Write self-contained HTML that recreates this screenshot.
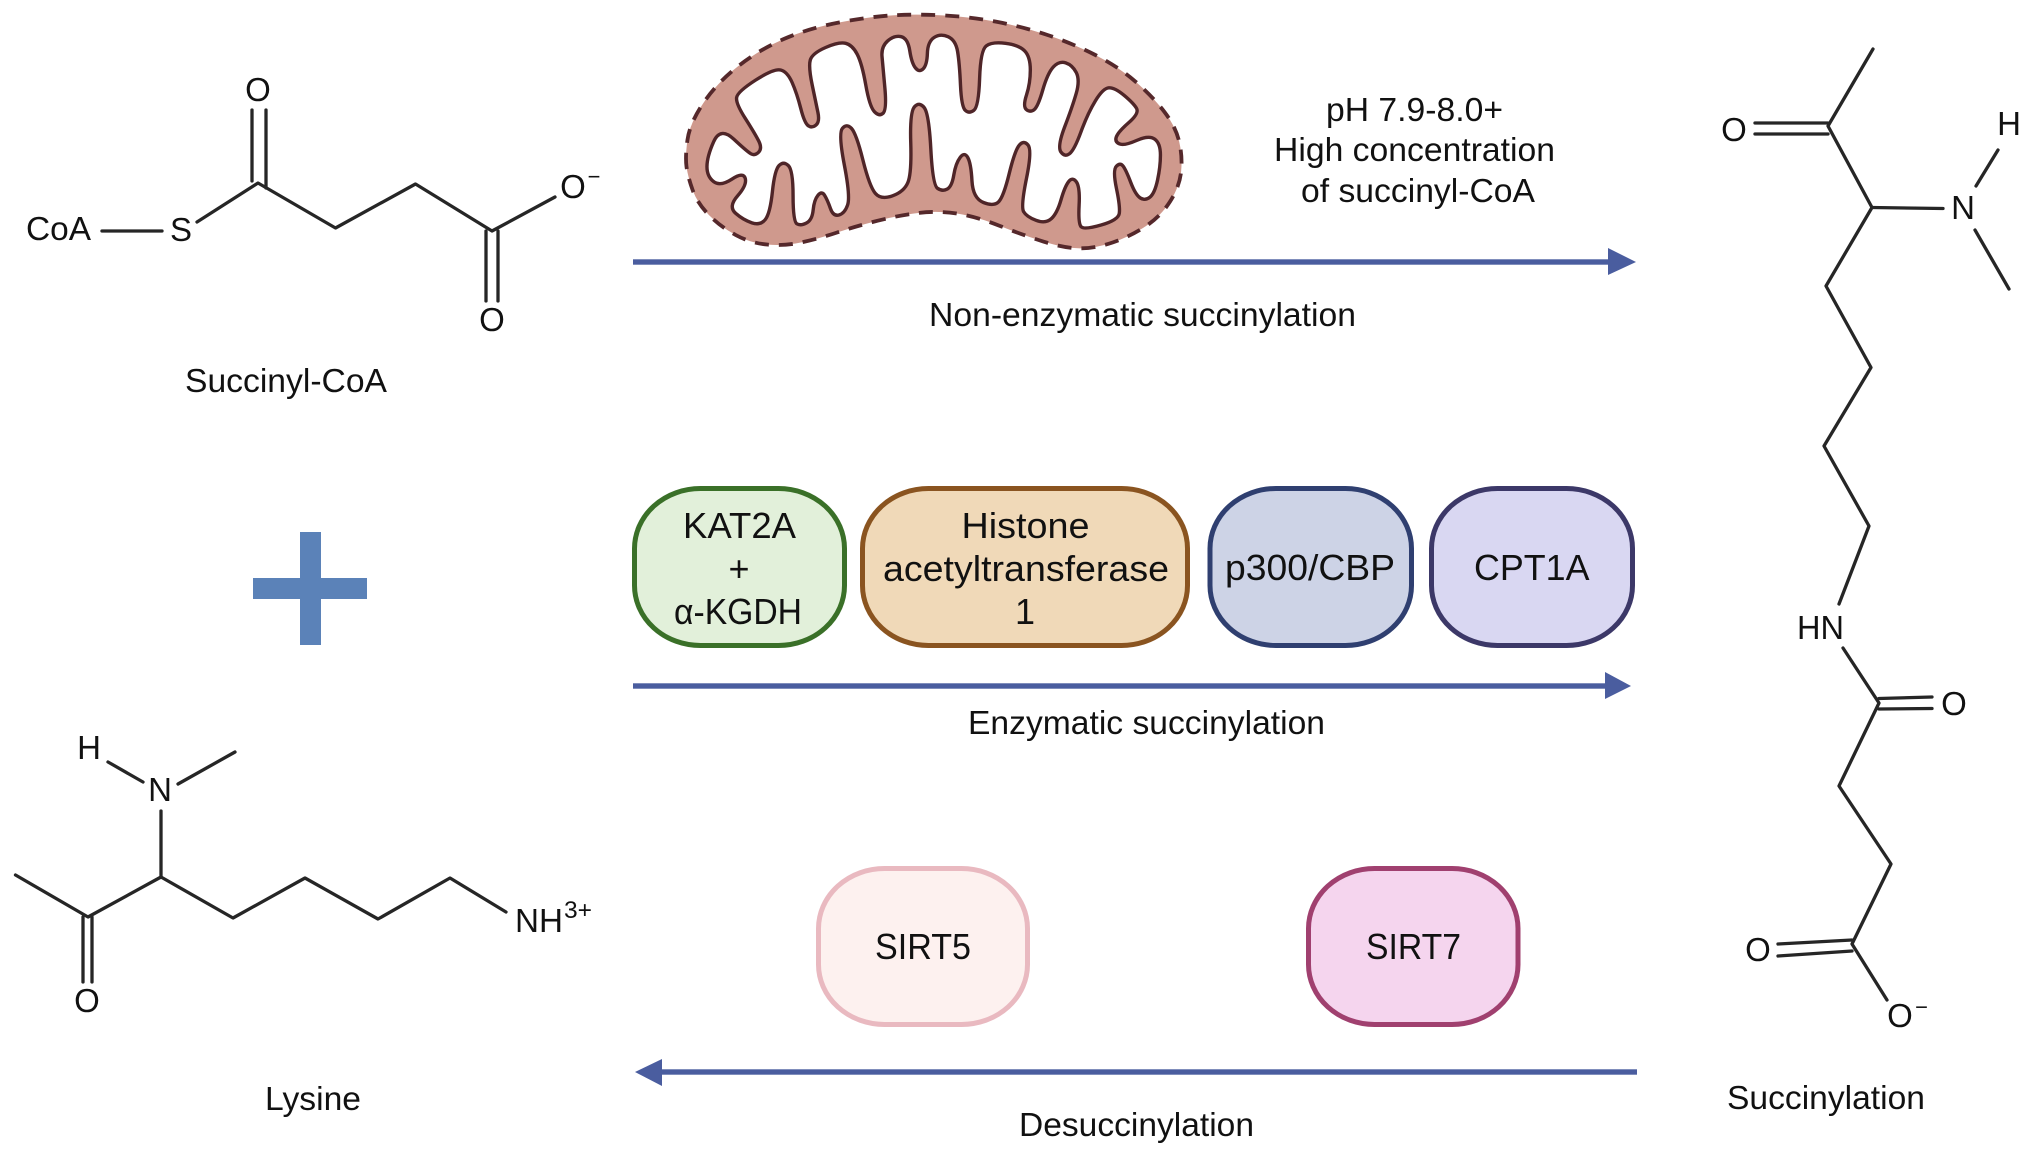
<!DOCTYPE html>
<html lang="en">
<head>
<meta charset="utf-8">
<title>Succinylation diagram</title>
<style>
html,body{margin:0;padding:0;background:#fff}
svg{display:block}
text{font-family:"Liberation Sans",Arial,sans-serif;fill:#111}
.a{font-size:33px}
.l{font-size:33px}
.p{font-size:36px}
.b{stroke:#262626;stroke-width:3.3;fill:none;stroke-linecap:round;stroke-linejoin:round}
</style>
</head>
<body>
<svg xmlns="http://www.w3.org/2000/svg" width="2032" height="1156" viewBox="0 0 2032 1156">
<rect width="2032" height="1156" fill="#fff"/>

<!-- Mitochondrion -->
<g transform="translate(640,0) scale(.38267,.33333)">
<path fill="#cf998d" stroke="#55282b" stroke-width="3.8" stroke-dasharray="14 10" vector-effect="non-scaling-stroke" d="M121.5,500 Q118,470 124,420 Q130,370 165,310 Q200,250 255,200 Q310,150 375,117.5 Q440,85 520,67.5 Q600,50 660,46 Q720,42 790,46 Q860,50 930,65 Q1000,80 1065,105 Q1130,130 1190,165 Q1250,200 1295,245 Q1340,290 1370,335 Q1400,380 1409,425 Q1418,470 1414,515 Q1410,560 1385,605 Q1360,650 1320,680 Q1280,710 1235,727.5 Q1190,745 1150,745 Q1110,745 1055,725 Q1000,705 940,677.5 Q880,650 830,641 Q780,632 730,638.5 Q680,645 620,662.5 Q560,680 515,697.5 Q470,715 425,726.5 Q380,738 335,734 Q290,730 250,705 Q210,680 180,645 Q150,610 137.5,570 Q125,530 121.5,500Z"/>
<path fill="#fff" stroke="#4f2528" stroke-width="3.4" stroke-linejoin="round" vector-effect="non-scaling-stroke" d="M175,500 Q175,470 192.5,425 Q210,380 245,417.5 Q280,455 290,461.5 Q300,468 310,456.5 Q320,445 310,422.5 Q300,400 275,355 Q250,310 252.5,292.5 Q255,275 302.5,240 Q350,205 367.5,210 Q385,215 397.5,247.5 Q410,280 420,325 Q430,370 440,377.5 Q450,385 460,375 Q470,365 465,337.5 Q460,310 450,255 Q440,200 445,180 Q450,160 485,142.5 Q520,125 537.5,130 Q555,135 567.5,162.5 Q580,190 590,255 Q600,320 612.5,335 Q625,350 635,340 Q645,330 640,265 Q635,200 632.5,170 Q630,140 647.5,122.5 Q665,105 682.5,110 Q700,115 705,152.5 Q710,190 720,204 Q730,218 740,206.5 Q750,195 751,160 Q752,125 768.5,112.5 Q785,100 805,110 Q825,120 830,155 Q835,190 837.5,255 Q840,320 850,331 Q860,342 872.5,331 Q885,320 887.5,235 Q890,150 905,137.5 Q920,125 955,130 Q990,135 1005,152.5 Q1020,170 1020,210 Q1020,250 1010,285 Q1000,320 1010,329 Q1020,338 1030,329 Q1040,320 1052.5,270 Q1065,220 1080,201 Q1095,182 1112.5,188.5 Q1130,195 1140,217.5 Q1150,240 1140,280 Q1130,320 1110,380 Q1090,440 1100,456 Q1110,472 1122.5,461 Q1135,450 1152.5,395 Q1170,340 1190,302.5 Q1210,265 1225,263.5 Q1240,262 1265,286 Q1290,310 1297.5,325 Q1305,340 1277.5,367.5 Q1250,395 1245,410 Q1240,425 1252.5,431.5 Q1265,438 1297.5,421.5 Q1330,405 1345,417.5 Q1360,430 1360,465 Q1360,500 1352.5,540 Q1345,580 1332.5,591.5 Q1320,603 1307.5,594 Q1295,585 1282.5,547.5 Q1270,510 1262.5,498.5 Q1255,487 1245,498.5 Q1235,510 1245,565 Q1255,620 1252.5,640 Q1250,660 1205,675 Q1160,690 1152.5,680 Q1145,670 1147.5,615 Q1150,560 1140,545 Q1130,530 1120,545 Q1110,560 1100,600 Q1090,640 1075,656 Q1060,672 1035,661 Q1010,650 1002.5,635 Q995,620 1010,535 Q1025,450 1014,435 Q1003,420 991.5,435 Q980,450 965,520 Q950,590 937.5,605 Q925,620 897.5,607.5 Q870,595 867.5,542.5 Q865,490 856.5,472.5 Q848,455 836.5,472.5 Q825,490 820,525 Q815,560 802.5,567.5 Q790,575 777.5,565 Q765,555 760,447.5 Q755,340 742.5,322.5 Q730,305 717.5,320 Q705,335 707.5,427.5 Q710,520 700,547.5 Q690,575 660,587.5 Q630,600 615,580 Q600,560 582.5,480 Q565,400 552.5,385 Q540,370 529,385 Q518,400 534,495 Q550,590 542.5,615 Q535,640 520,645 Q505,650 497.5,625 Q490,600 482.5,586 Q475,572 465,586 Q455,600 452.5,630 Q450,660 435,669 Q420,678 410,671.5 Q400,665 400,587.5 Q400,510 387.5,496.5 Q375,483 363.5,496.5 Q352,510 346,575 Q340,640 327.5,658.5 Q315,677 292.5,668.5 Q270,660 250,640 Q230,620 255,587.5 Q280,555 275,535 Q270,515 240,537.5 Q210,560 192.5,545 Q175,530 175,500Z"/>
</g>

<!-- Arrows -->
<g fill="#4a5d9f">
<rect x="633" y="259.3" width="978" height="5.4"/>
<polygon points="1608,248 1636,262 1608,275"/>
<rect x="633" y="683.3" width="975" height="5.4"/>
<polygon points="1605,672 1631,686 1605,699"/>
<rect x="660" y="1069.3" width="977" height="5.4"/>
<polygon points="662,1059 635,1072 662,1086"/>
</g>

<!-- Plus -->
<g fill="#5b82b8">
<rect x="300" y="532" width="21" height="113"/>
<rect x="253" y="578" width="114" height="21"/>
</g>

<!-- Enzyme pills -->
<rect x="634.5" y="488.5" width="210" height="157" rx="66" ry="60" fill="#e2f0da" stroke="#3a7028" stroke-width="5"/>
<rect x="862.5" y="488.5" width="325" height="157" rx="66" ry="60" fill="#f0d9b8" stroke="#8a5420" stroke-width="5"/>
<rect x="1210" y="488.5" width="201.5" height="157" rx="66" ry="60" fill="#cdd3e6" stroke="#2f3f70" stroke-width="5"/>
<rect x="1431.5" y="488.5" width="201" height="157" rx="66" ry="60" fill="#d9d7f2" stroke="#3c3868" stroke-width="5"/>
<rect x="818.5" y="868.5" width="209" height="156" rx="66" ry="60" fill="#fdf1ef" stroke="#e9b9c0" stroke-width="5"/>
<rect x="1308.5" y="868.5" width="209.5" height="156" rx="66" ry="60" fill="#f5d5ee" stroke="#a0406f" stroke-width="5"/>

<text class="p" x="683" y="538" textLength="113" lengthAdjust="spacingAndGlyphs">KAT2A</text>
<text class="p" x="739" y="581" text-anchor="middle">+</text>
<text class="p" x="674" y="624" textLength="128" lengthAdjust="spacingAndGlyphs">α-KGDH</text>
<text class="p" x="961.5" y="538" textLength="128" lengthAdjust="spacingAndGlyphs">Histone</text>
<text class="p" x="883" y="581" textLength="286" lengthAdjust="spacingAndGlyphs">acetyltransferase</text>
<text class="p" x="1025" y="624" text-anchor="middle">1</text>
<text class="p" x="1225" y="580" textLength="170" lengthAdjust="spacingAndGlyphs">p300/CBP</text>
<text class="p" x="1474" y="580" textLength="115.5" lengthAdjust="spacingAndGlyphs">CPT1A</text>
<text class="p" x="875" y="959" textLength="96" lengthAdjust="spacingAndGlyphs">SIRT5</text>
<text class="p" x="1366" y="959" textLength="95" lengthAdjust="spacingAndGlyphs">SIRT7</text>

<!-- Process labels -->
<text class="l" x="1326" y="121" textLength="177" lengthAdjust="spacingAndGlyphs">pH 7.9-8.0+</text>
<text class="l" x="1274" y="161" textLength="281" lengthAdjust="spacingAndGlyphs">High concentration</text>
<text class="l" x="1301" y="202" textLength="234" lengthAdjust="spacingAndGlyphs">of succinyl-CoA</text>
<text class="l" x="929" y="326" textLength="427" lengthAdjust="spacingAndGlyphs">Non-enzymatic succinylation</text>
<text class="l" x="968" y="734" textLength="357" lengthAdjust="spacingAndGlyphs">Enzymatic succinylation</text>
<text class="l" x="1019" y="1136" textLength="235" lengthAdjust="spacingAndGlyphs">Desuccinylation</text>

<!-- Succinyl-CoA -->
<g class="b">
<path d="M102,231H162"/>
<path d="M197,222L258,183L335.5,228L415.5,184L492,231L555,197"/>
<path d="M252,110V181M266,110V188"/>
<path d="M486,231V301M498,231V301"/>
</g>
<text class="a" x="258" y="101" text-anchor="middle">O</text>
<text class="a" x="26" y="240" textLength="65" lengthAdjust="spacingAndGlyphs">CoA</text>
<text class="a" x="181" y="241" text-anchor="middle">S</text>
<text class="a" x="573" y="198" text-anchor="middle">O</text>
<text x="594" y="184" font-size="22" text-anchor="middle">−</text>
<text class="a" x="492" y="331" text-anchor="middle">O</text>
<text class="l" x="185" y="392" textLength="202" lengthAdjust="spacingAndGlyphs">Succinyl-CoA</text>

<!-- Lysine -->
<g class="b">
<path d="M15.5,875L88,917L161,877L233,918L305,878L378,919L450,878L506,912"/>
<path d="M161,811V877"/>
<path d="M108,762L143,782"/>
<path d="M178,784L235,752"/>
<path d="M83,917V982M92,917V982"/>
</g>
<text class="a" x="89" y="759" text-anchor="middle">H</text>
<text class="a" x="160" y="801" text-anchor="middle">N</text>
<text class="a" x="87" y="1012" text-anchor="middle">O</text>
<text class="a" x="515" y="932" textLength="48" lengthAdjust="spacingAndGlyphs">NH</text>
<text x="564" y="918" font-size="24" textLength="28" lengthAdjust="spacingAndGlyphs">3+</text>
<text class="l" x="265" y="1110" textLength="96" lengthAdjust="spacingAndGlyphs">Lysine</text>

<!-- Succinylation -->
<g class="b">
<path d="M1873,49L1828,126L1872,207.5L1826,286L1871,367.5L1824,446L1869,526L1839,604"/>
<path d="M1755,123H1828M1755,134H1828"/>
<path d="M1872,207.5L1943,208.5"/>
<path d="M1976,186L1998,150"/>
<path d="M1975,230L2009,289"/>
<path d="M1843,648L1879,703L1839,786L1891,864L1852,944L1887,1000"/>
<path d="M1879,698.5L1932,697M1879,709L1932,708.5"/>
<path d="M1852,940L1778,944M1852,951L1778,956"/>
</g>
<text class="a" x="1734" y="141" text-anchor="middle">O</text>
<text class="a" x="2009" y="135" text-anchor="middle">H</text>
<text class="a" x="1963" y="219" text-anchor="middle">N</text>
<text class="a" x="1797" y="639" textLength="47" lengthAdjust="spacingAndGlyphs">HN</text>
<text class="a" x="1954" y="715" text-anchor="middle">O</text>
<text class="a" x="1758" y="961" text-anchor="middle">O</text>
<text class="a" x="1900" y="1027" text-anchor="middle">O</text>
<text x="1921.5" y="1014.5" font-size="22" text-anchor="middle">−</text>
<text class="l" x="1727" y="1109" textLength="198" lengthAdjust="spacingAndGlyphs">Succinylation</text>
</svg>
</body>
</html>
